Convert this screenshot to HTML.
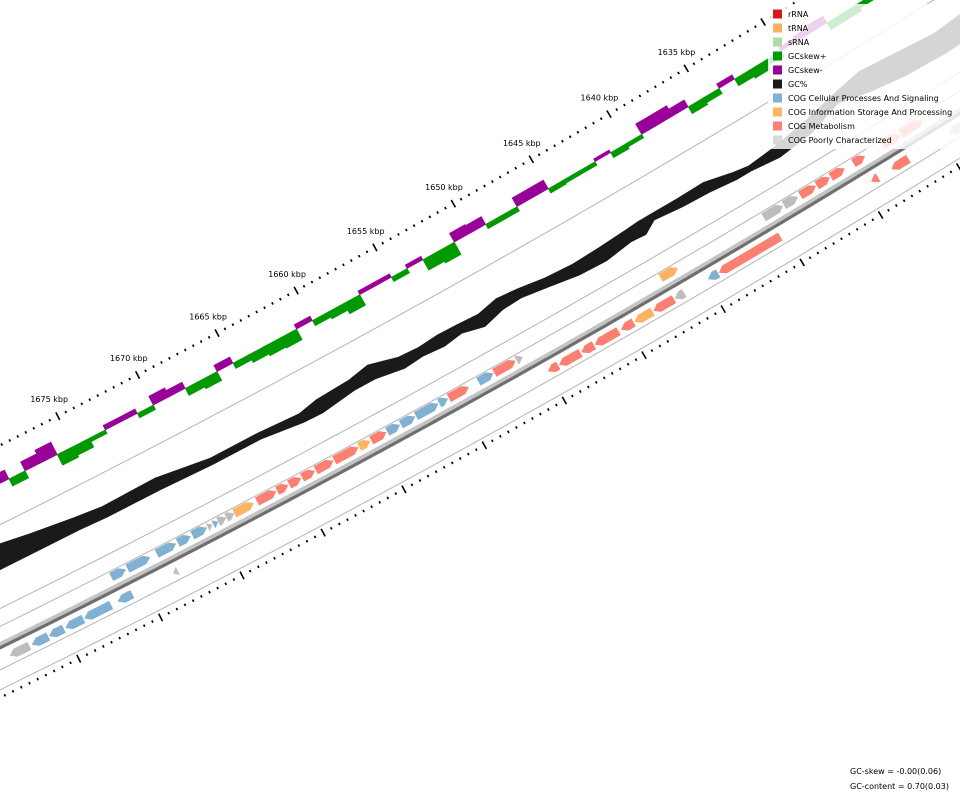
<!DOCTYPE html>
<html><head><meta charset="utf-8"><title>Genome map</title>
<style>
html,body{margin:0;padding:0;background:#fff;}
svg{display:block;font-family:"DejaVu Sans","Liberation Sans",sans-serif;}
</style></head>
<body>
<svg id="chart" width="960" height="800" viewBox="0 0 960 800" xmlns="http://www.w3.org/2000/svg">
<rect x="0" y="0" width="960" height="800" fill="#fff"/>
<g id="guides"></g>
<g id="skew"></g>
<g id="gc"></g>
<g id="backbone"></g>
<g id="features"></g>
<g id="ticks"></g>
<g id="labels"></g>
<g id="legend">
  <rect x="768" y="4" width="192" height="145" fill="#fff" fill-opacity="0.82"/>
</g>
<text x="850" y="774" font-size="8" fill="#000">GC-skew = -0.00(0.06)</text>
<text x="850" y="789" font-size="8" fill="#000">GC-content = 0.70(0.03)</text>
</svg>
<script>
// ---- data ----
const skewKbp = [1681,1680,1679,1678,1677,1676,1675,1674,1673,1672,1671,1670,1669,1668,1667,1666,1665,1664,1663,1662,1661,1660,1659,1658,1657,1656,1655,1654,1653,1652,1651,1650,1649,1648,1647,1646,1645,1644,1643,1642,1641,1640,1639,1638,1637,1636,1635,1634,1633,1632,1631,1630,1629,1628,1627,1626,1625,1624,1623];
const skewValues = [0.06,-0.08,-0.10,0.08,-0.10,-0.14,0.12,0.10,0.04,-0.05,-0.05,0.05,-0.10,-0.07,0.08,0.10,-0.07,0.06,0.09,0.11,0.12,-0.05,0.06,0.08,0.12,-0.04,-0.04,0.05,-0.04,0.12,0.14,-0.10,-0.09,0.05,0.05,-0.10,-0.10,0.05,0.04,0.04,-0.03,0.06,0.04,-0.12,-0.12,-0.08,0.08,0.06,-0.05,0.08,0.10,0.06,-0.04,-0.06,-0.08,0.08,0.08,0.05,-0.04];

const gcKbp = [1684,1681.7,1679.3,1676.8,1675.1,1671.8,1668.6,1665.6,1663.1,1661.9,1659.8,1658.5,1656.8,1655.6,1654.3,1653.1,1651.8,1650.5,1649.3,1647.6,1645.9,1644.2,1642.5,1641.6,1640.8,1639.1,1637.4,1635.7,1634.8,1633.1,1630.9,1628.8,1626.9,1624.9,1622.3,1620.0];
const gcMax = [0.744,0.742,0.732,0.723,0.718,0.720,0.707,0.707,0.703,0.710,0.713,0.720,0.707,0.705,0.708,0.707,0.705,0.713,0.710,0.703,0.700,0.702,0.705,0.707,0.707,0.707,0.708,0.697,0.693,0.698,0.708,0.722,0.732,0.727,0.720,0.725];
const gcMin = [0.702,0.702,0.702,0.702,0.700,0.700,0.697,0.697,0.688,0.687,0.695,0.695,0.687,0.690,0.687,0.692,0.683,0.693,0.695,0.688,0.680,0.678,0.685,0.683,0.697,0.692,0.690,0.685,0.685,0.680,0.687,0.707,0.695,0.687,0.683,0.685];

const featStart = [1676.4,1675.4,1673.6,1672.3,1671.4,1670.45,1670.1,1669.8,1669.3,1668.8,1667.4,1666.15,1665.4,1664.6,1663.75,1662.6,1661.05,1660.3,1659.3,1658.45,1657.5,1656.05,1655.45,1653.6,1652.6,1651.2,1642.1,1635.55,1634.25,1633.2,1632.15,1631.25,1629.8,1627.9,1626.75,
  1683.3,1681.95,1680.9,1679.9,1678.75,1676.7,1673.3,1650.0,1649.3,1647.9,1647.05,1645.4,1644.55,1643.35,1642.0,1639.9,1639.2,1629.5,1628.2,1624.5];
const featEnd = [1675.5,1674.0,1672.4,1671.5,1670.5,1670.15,1669.8,1669.3,1668.8,1667.6,1666.2,1665.45,1664.65,1663.8,1662.65,1661.1,1660.35,1659.35,1658.5,1657.55,1656.1,1655.5,1654.2,1652.65,1651.25,1650.8,1641.0,1634.3,1633.35,1632.2,1631.3,1630.35,1629.05,1626.8,1625.35,
  1682.1,1680.95,1680.0,1678.8,1677.1,1675.8,1673.0,1649.35,1647.95,1647.1,1645.55,1644.6,1643.4,1642.05,1641.4,1639.25,1635.3,1629.05,1627.1,1622.5];
const featStrand = [1,1,1,1,1,1,1,1,1,1,1,1,1,1,1,1,1,1,1,1,1,1,1,1,1,1,1,1,1,1,1,1,1,1,1,
  -1,-1,-1,-1,-1,-1,-1,-1,-1,-1,-1,-1,-1,-1,-1,-1,-1,-1,-1,-1];
const featCog = [0,0,0,0,0,3,0,3,3,1,2,2,2,2,2,2,1,2,0,0,0,0,2,0,2,3,1,3,3,2,2,2,2,2,2,
  3,0,0,0,0,0,3,2,2,2,2,2,1,2,3,0,2,2,2,3];

const tickLabels = [1630,1635,1640,1645,1650,1655,1660,1665,1670,1675,1680];
const legendNames = ["rRNA","tRNA","sRNA","GCskew+","GCskew-","GC%","COG Cellular Processes And Signaling","COG Information Storage And Processing","COG Metabolism","COG Poorly Characterized"];
const legendColors = ["#d7191c","#fdae61","#abdda4","#009900","#990099","#1a1a1a","#80b1d3","#fdb462","#fb8072","#d9d9d9"];
const cogColors = ["#80b1d3","#fdb462","#fb8072","#bdbdbd"];

// ---- geometry ----
const NS = "http://www.w3.org/2000/svg";
const CX = -4852, CY = -9200, R0 = 10797;
function ang(k){ return (59.14 + (k - 1635) * 0.0953) * Math.PI / 180; }
function pt(k, dr){ const a = ang(k), r = R0 + dr; return [CX + r*Math.cos(a), CY + r*Math.sin(a)]; }
function ps(arr){ return arr.map(p => p[0].toFixed(2)+","+p[1].toFixed(2)).join(" "); }
function mk(tag, parent, attrs){ const e = document.createElementNS(NS, tag); for (const k in attrs) e.setAttribute(k, attrs[k]); parent.appendChild(e); return e; }

const SKEW_DR = 34, SKEW_SCALE = 100;
const GC_DR = 112, GC_SCALE = 600, GC_AVG = 0.70;
const BB_DR = 180, FWD_DR = 167.5, REV_DR = 192.5, HALF = 4.5;

// guide lines
const guides = document.getElementById('guides');
[71,146,162,201,219].forEach((dr,i) => {
  const pts = [];
  for (let k = 1615; k <= 1690; k += 0.5) pts.push(pt(k, dr));
  const el = mk('polyline', guides, {points: ps(pts), fill:'none', stroke:'#b4b4b4', 'stroke-width':1});
  
  
});

// GC skew
const skewG = document.getElementById('skew');
skewKbp.forEach((k, i) => {
  const v = skewValues[i];
  const d2 = SKEW_DR + v * SKEW_SCALE;
  const el = mk('polygon', skewG, {points: ps([pt(k,SKEW_DR), pt(k+1,SKEW_DR), pt(k+1,d2), pt(k,d2)]), fill: v >= 0 ? '#009900' : '#990099', stroke: v >= 0 ? '#009900' : '#990099', 'stroke-width':0.6});
  
  
});

// GC content
const gcG = document.getElementById('gc');
const gcTopPts = gcKbp.map((k,i) => pt(k, GC_DR - (gcMax[i] - GC_AVG) * GC_SCALE));
const gcBotPts = gcKbp.map((k,i) => pt(k, GC_DR - (gcMin[i] - GC_AVG) * GC_SCALE)).reverse();
const gcEl = mk('polygon', gcG, {points: ps(gcTopPts.concat(gcBotPts)), fill:'#1a1a1a', stroke:'#1a1a1a', 'stroke-width':1.5, 'stroke-linejoin':'round'});



// backbone
const bbG = document.getElementById('backbone');
const bbPts1 = [], bbPts2 = [];
for (let k = 1615; k <= 1690; k += 0.5){ bbPts1.push(pt(k, BB_DR - 0.5)); bbPts2.push(pt(k, BB_DR + 1.2)); }
const bb1 = mk('polyline', bbG, {points: ps(bbPts1), fill:'none', stroke:'#c4c4c4', 'stroke-width':7});


const bb2 = mk('polyline', bbG, {points: ps(bbPts2), fill:'none', stroke:'#6e6e6e', 'stroke-width':3});



// features
const fG = document.getElementById('features');
featStart.forEach((a, i) => {
  const b = featEnd[i], s = featStrand[i];
  const d = s > 0 ? FWD_DR : REV_DR;
  const head = Math.min(0.35, a - b);
  let poly;
  if (s > 0) poly = [pt(a,d-HALF), pt(b+head,d-HALF), pt(b,d), pt(b+head,d+HALF), pt(a,d+HALF)];
  else poly = [pt(b,d-HALF), pt(a-head,d-HALF), pt(a,d), pt(a-head,d+HALF), pt(b,d+HALF)];
  const el = mk('polygon', fG, {points: ps(poly), fill: cogColors[featCog[i]]});
  
  
});

// ticks
const tG = document.getElementById('ticks');
[0, 226].forEach((base, ri) => {
  for (let k = 1615; k <= 1690; k += 0.5){
    const major = Math.abs(k % 5) < 1e-6;
    const len = major ? 4.2 : 1.2;
    const p1 = pt(k, base - len), p2 = pt(k, base + len);
    const el = mk('line', tG, {x1:p1[0].toFixed(2), y1:p1[1].toFixed(2), x2:p2[0].toFixed(2), y2:p2[1].toFixed(2), stroke:'#000', 'stroke-width': major ? 1.6 : 1.7});
    
    
  }
});

// labels
const lG = document.getElementById('labels');
tickLabels.forEach(k => {
  const p = pt(k, -19);
  if (p[1] < 10 || p[0] < 5) return;
  const el = mk('text', lG, {x:p[0].toFixed(1), y:(p[1]+3).toFixed(1), 'font-size':8, 'text-anchor':'middle', fill:'#000'});
  el.textContent = k + ' kbp';
  
  
});

// legend
const lgG = document.getElementById('legend');
legendNames.forEach((n, i) => {
  const y = 14 + i * 14;
  const sq = mk('rect', lgG, {x:773, y:y-4.5, width:9, height:9, fill:legendColors[i]});
  
  
  const t = mk('text', lgG, {x:788, y:y+3, 'font-size':8, fill:'#000'});
  t.textContent = n;
  
  
});
</script>
</body></html>
